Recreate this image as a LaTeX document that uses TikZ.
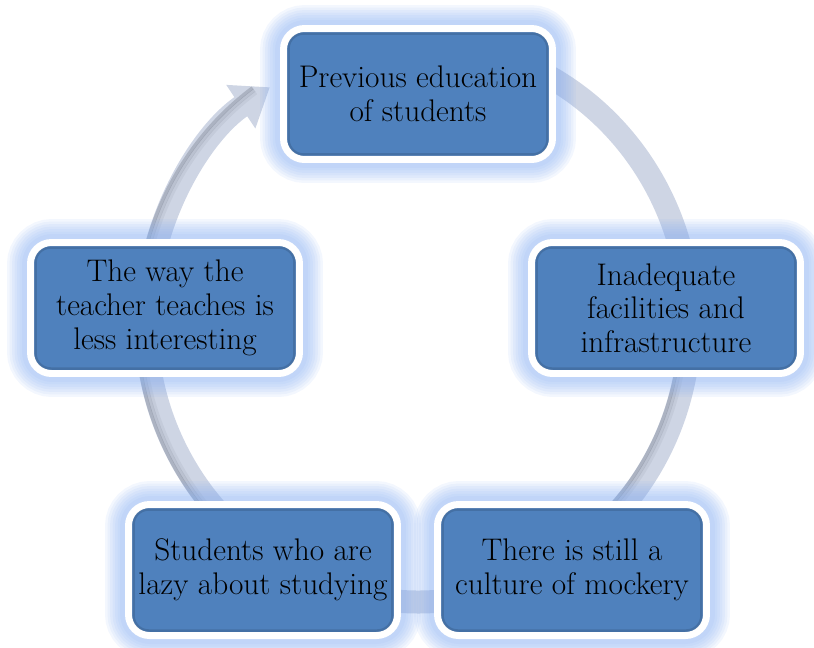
\documentclass[tikz,border=0pt]{standalone}
\usetikzlibrary{arrows.meta}
\usetikzlibrary{backgrounds}

\definecolor{boxblue}{RGB}{79,129,189}
\definecolor{glowblue}{RGB}{138,176,242}
\definecolor{ringgray}{RGB}{206,213,228}
\definecolor{ringdark}{RGB}{110,116,132}

\begin{document}
\begin{tikzpicture}[x=0.02cm, y=0.02cm,
		cause/.style={rectangle, rounded corners=0.42cm, fill=boxblue, draw=white, line width=0.14cm,
			minimum width=5.38cm, minimum height=2.62cm, align=center, text=black,
			font=\fontsize{17.8}{19.2}\selectfont},
		glow/.style={rounded corners=0.5cm, draw=glowblue, opacity=0.1},
		inshade/.style={rounded corners=0.3cm, draw=boxblue!50!black, line width=0.05cm, opacity=0.25},
		ring/.style={draw=ringgray, line width=0.46cm, -{Triangle[length=0.7cm, width=1.0cm]}},
		ringshade/.style={draw=ringdark, line width=0.07cm}]
		\useasboundingbox (0, 0) rectangle (814, -647);
		\coordinate (hub) at (418, -322);

		% the five causes
		\node[cause] (prev) at (418, -94) {Previous education\\of students};
		\node[cause] (facil) at (666, -308) {Inadequate\\facilities and\\infrastructure};
		\node[cause] (mock) at (572, -570) {There is still a\\culture of mockery};
		\node[cause] (lazy) at (263, -570) {Students who are\\lazy about studying};
		\node[cause] (teach) at (165, -308) {The way the\\teacher teaches is\\less interesting};

		% darker rim just inside the white border
		\foreach \n in {prev, facil, mock, lazy, teach}
			\draw[inshade] ([shift={(0.17cm, 0.17cm)}]\n.south west) rectangle ([shift={(-0.17cm, -0.17cm)}]\n.north east);

		\begin{scope}[on background layer]
			% cycle arrow behind the boxes
			\draw[ring] (hub) ++(80:5.44cm and 5.6cm) arc[start angle=80, end angle=-237, x radius=5.44cm, y radius=5.6cm];
			\draw[ringshade, opacity=0.35] (hub) ++(255:5.63cm and 5.79cm) arc[start angle=255, end angle=126, x radius=5.63cm, y radius=5.79cm];
			\draw[ringshade, opacity=0.2] (hub) ++(255:5.57cm and 5.73cm) arc[start angle=255, end angle=126, x radius=5.57cm, y radius=5.73cm];
			\draw[ringshade, opacity=0.1] (hub) ++(255:5.51cm and 5.67cm) arc[start angle=255, end angle=126, x radius=5.51cm, y radius=5.67cm];
			\draw[ringshade, opacity=0.35] (hub) ++(-5:5.25cm and 5.41cm) arc[start angle=-5, end angle=-80, x radius=5.25cm, y radius=5.41cm];
			\draw[ringshade, opacity=0.2] (hub) ++(-5:5.31cm and 5.47cm) arc[start angle=-5, end angle=-80, x radius=5.31cm, y radius=5.47cm];
			\draw[ringshade, opacity=0.1] (hub) ++(-5:5.37cm and 5.53cm) arc[start angle=-5, end angle=-80, x radius=5.37cm, y radius=5.53cm];

			% soft halo round each box
			\foreach \n in {prev, facil, mock, lazy, teach}
				\foreach \w in {0.2, 0.3, 0.4, 0.5, 0.6, 0.7, 0.8}
					\draw[glow, line width=\w cm] (\n.south west) rectangle (\n.north east);
		\end{scope}
	\end{tikzpicture}
\end{document}
